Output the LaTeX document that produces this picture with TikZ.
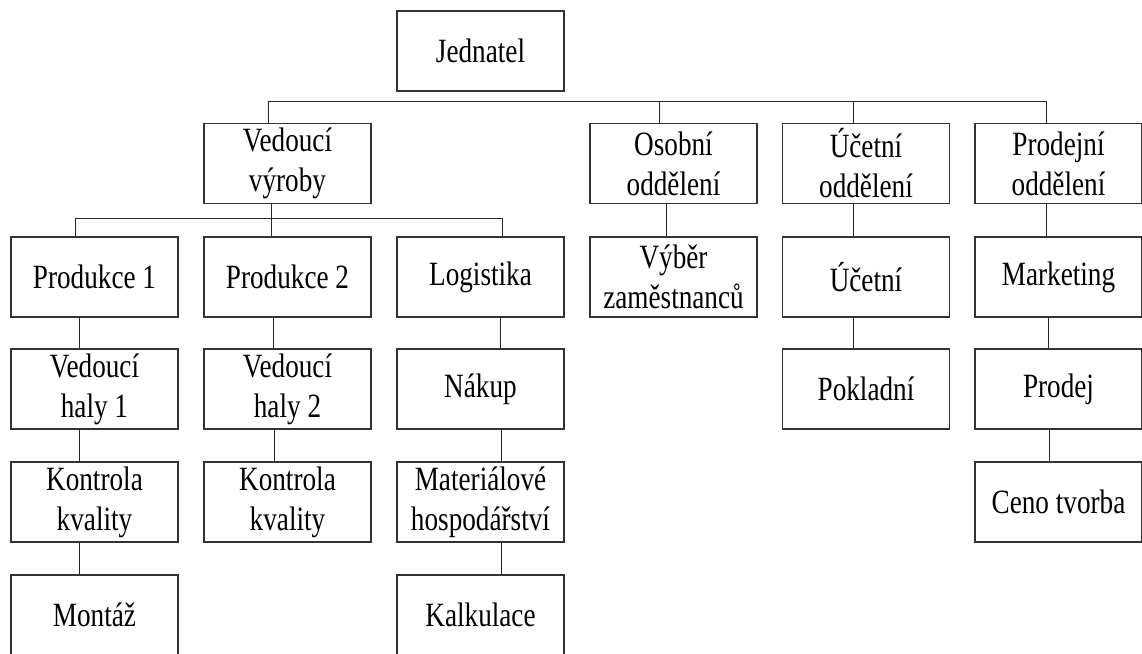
\documentclass[tikz,border=0pt]{standalone}
\usepackage{fontspec}
\setmainfont{Liberation Serif}[FakeStretch=0.8]
\begin{document}
\begin{tikzpicture}[x=1pt,y=-1pt,
    box/.style={draw=black!80, line width=1.3pt, minimum width=167pt,
      minimum height=80pt, inner sep=0pt, align=center,
      font=\fontsize{34}{40}\selectfont},
    link/.style={draw=black!85, line width=1pt}]
  \useasboundingbox (0,0) rectangle (1142,653);
  % top
  \node[box] (jedn) at (480.5,51) {Jednatel};
  % departments
  \node[box] (ved) at (287.5,163.5) {Vedoucí\\výroby};
  \node[box] (osob) at (673.5,163.5) {Osobní\\oddělení};
  \node[box] (ucod) at (866,163.5) {Účetní\\oddělení};
  \node[box] (prodo) at (1058.5,163.5) {Prodejní\\oddělení};
  % third row
  \node[box] (prod1) at (94.5,277) {Produkce 1};
  \node[box] (prod2) at (287.5,277) {Produkce 2};
  \node[box] (logi) at (480.5,277) {Logistika};
  \node[box] (vybe) at (673.5,277) {Výběr\\zaměstnanců};
  \node[box] (ucet) at (866,277) {Účetní};
  \node[box] (mark) at (1058.5,277) {Marketing};
  % fourth row
  \node[box] (hal1) at (94.5,389) {Vedoucí\\haly 1};
  \node[box] (hal2) at (287.5,389) {Vedoucí\\haly 2};
  \node[box] (naku) at (480.5,389) {Nákup};
  \node[box] (pokl) at (866,389) {Pokladní};
  \node[box] (prodj) at (1058.5,389) {Prodej};
  % fifth row
  \node[box] (kon1) at (94.5,502) {Kontrola\\kvality};
  \node[box] (kon2) at (287.5,502) {Kontrola\\kvality};
  \node[box] (mate) at (480.5,502) {Materiálové\\hospodářství};
  \node[box] (ceno) at (1058.5,502) {Ceno tvorba};
  % last row
  \node[box] (mont) at (94.5,615) {Montáž};
  \node[box] (kalk) at (480.5,615) {Kalkulace};

  % buses
  \coordinate (topbus) at (0,101);
  \coordinate (midbus) at (0,218);
  \draw[link] ([xshift=-19pt]ved.north) |- ([xshift=-12pt]prodo.north |- topbus)
    -- ([xshift=-12pt]prodo.north);
  \foreach \n/\s in {osob/-14, ucod/-13}
    \draw[link] ([xshift=\s pt]\n.north) -- ([xshift=\s pt]\n.north |- topbus);
  \draw[link] ([xshift=-19pt]prod1.north) |- ([xshift=22pt]logi.north |- midbus)
    -- ([xshift=22pt]logi.north);
  \draw[link] ([xshift=-16pt]ved.south) -- ([xshift=-16pt]prod2.north);
  % columns
  \foreach \a/\b/\s in {prod1/hal1/-15, hal1/kon1/-15, kon1/mont/-15,
      prod2/hal2/-14, hal2/kon2/-13, logi/naku/20, naku/mate/21, mate/kalk/21,
      osob/vybe/-7, ucod/ucet/-13, ucet/pokl/-13, prodo/mark/-12,
      mark/prodj/-10, prodj/ceno/-9}
    \draw[link] ([xshift=\s pt]\a.south) -- ([xshift=\s pt]\b.north);
\end{tikzpicture}
\end{document}
